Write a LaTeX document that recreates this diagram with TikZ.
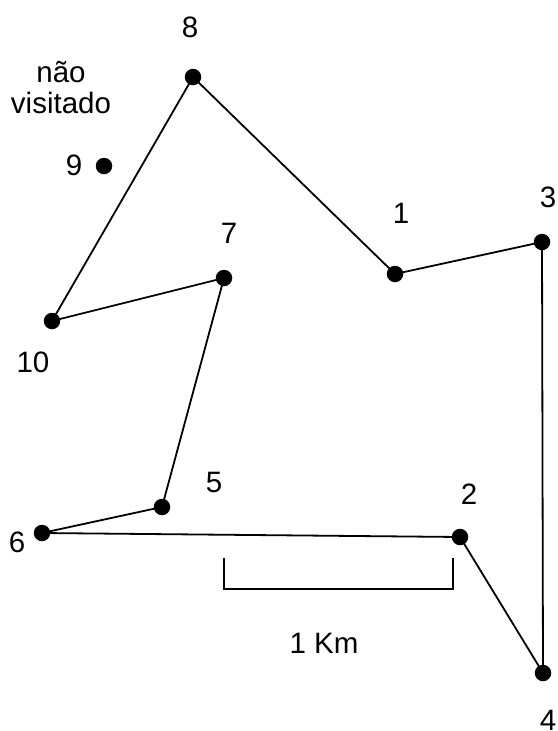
\documentclass[tikz,border=0pt]{standalone}
\usepackage{fontspec}
\setmainfont{Liberation Sans}
\begin{document}
\begin{tikzpicture}[x=1pt,y=-1pt,
  dot/.style={circle,fill=black,inner sep=0pt,minimum size=16.5pt},
  lbl/.style={font=\fontsize{29.5}{31}\selectfont,inner sep=0pt,text height=21.1pt,text depth=0pt,anchor=center},
  route/.style={line width=1.8pt,line join=round}]
\useasboundingbox (0,0) rectangle (557,731);
\node[dot] (p1) at (395,274) {};
\node[dot] (p2) at (460,537) {};
\node[dot] (p3) at (542,242) {};
\node[dot] (p4) at (543,673) {};
\node[dot] (p5) at (162,507) {};
\node[dot] (p6) at (42,533) {};
\node[dot] (p7) at (224,278) {};
\node[dot] (p8) at (193,77) {};
\node[dot] (p9) at (104,166) {};
\node[dot] (p10) at (52,321) {};
\draw[route] (p8.center) -- (p1.center) -- (p3.center) -- (p4.center) -- (p2.center) -- (p6.center) -- (p5.center) -- (p7.center) -- (p10.center) -- cycle;
\node[lbl] (l1) at (401,213) {1};
\node[lbl] (l2) at (469,494) {2};
\node[lbl] (l3) at (548,197) {3};
\node[lbl] (l4) at (548,720) {4};
\node[lbl] (l5) at (214,482) {5};
\node[lbl] (l6) at (17,542) {6};
\node[lbl] (l7) at (229,233) {7};
\node[lbl] (l8) at (190,27) {8};
\node[lbl] (l9) at (74,165) {9};
\node[lbl] (l10) at (33,362) {10};
\node[lbl] (nv1) at (61,72) {não};
\node[lbl] (nv2) at (61,103) {visitado};
\coordinate (s1) at (224,558);
\coordinate (s2) at (224,589);
\coordinate (s3) at (453,589);
\coordinate (s4) at (453,558);
\draw[line width=1.3pt] (s1) -- (s2) -- (s3) -- (s4);
\node[lbl] (km) at (324,643) {1 Km};
\end{tikzpicture}
\end{document}
